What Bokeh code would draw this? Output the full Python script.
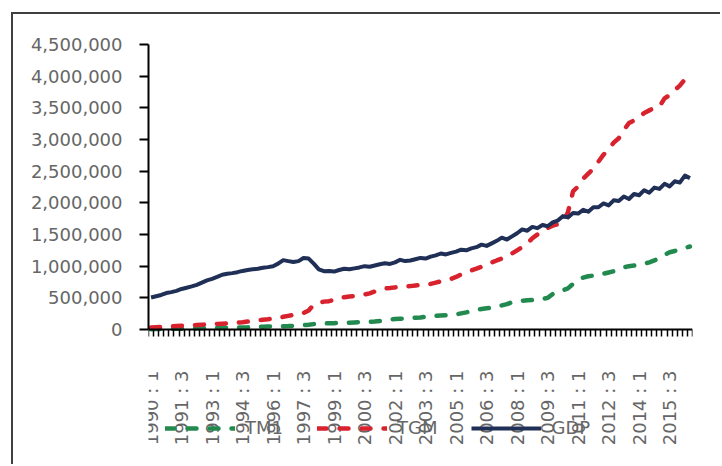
import math
from bokeh.plotting import figure
from bokeh.models import (FixedTicker, NumeralTickFormatter, Legend, LegendItem, Range1d)
from bokeh.embed import file_html
from bokeh.resources import INLINE

# ---------------- data ----------------
periods = [f"{y} : {q}" for y in range(1990, 2017) for q in (1, 2, 3, 4)][:107]

tm1_k = [5, 6, 8, 10, 10, 12, 13, 15, 16, 18, 19, 20, 22, 23, 25, 27,
         28, 30, 32, 34, 38, 42, 45, 48, 50, 52, 53, 55, 58, 62, 68, 75,
         85, 92, 95, 98, 100, 103, 105, 108, 112, 115, 118, 120, 125, 135, 145, 155,
         165, 170, 175, 180, 185, 190, 200, 210, 215, 220, 225, 230, 240, 255, 270, 290,
         310, 325, 335, 345, 360, 380, 400, 430, 450, 455, 460, 465, 470, 480, 500, 560,
         600, 620, 650, 720, 780, 820, 840, 850, 860, 880, 900, 920, 950, 980, 1000, 1010,
         1020, 1040, 1060, 1090, 1130, 1180, 1220, 1240, 1260, 1290, 1310]

tgm_k = [30, 35, 40, 45, 48, 55, 60, 62, 65, 70, 75, 80, 82, 88, 92, 95,
         100, 108, 115, 126, 135, 145, 155, 162, 174, 185, 200, 215, 230, 245, 260, 300,
         395, 420, 440, 447, 470, 500, 510, 520, 530, 545, 553, 570, 600, 630, 647, 655,
         665, 670, 679, 685, 695, 700, 710, 720, 740, 760, 774, 800, 830, 870, 900, 932,
         960, 990, 1020, 1058, 1090, 1120, 1160, 1200, 1250, 1300, 1358, 1440,
         1500, 1560, 1600, 1640, 1660, 1700, 1850, 2180, 2260, 2380, 2460, 2540,
         2650, 2760, 2850, 2950, 3020, 3150, 3260, 3300, 3350, 3420, 3460, 3500,
         3520, 3650, 3700, 3780, 3850, 3950, 4020]

gdp_k = [505, 525, 545, 575, 590, 610, 640, 660, 680, 705, 740, 775, 800, 830, 865, 880,
         890, 905, 925, 940, 950, 960, 975, 985, 1000, 1040, 1095, 1080, 1065, 1080, 1130, 1120,
         1040, 950, 920, 925, 915, 940, 960, 950, 965, 980, 1000, 990, 1010, 1030, 1045, 1035,
         1060, 1100, 1080, 1090, 1110, 1130, 1120, 1150, 1170, 1200, 1185, 1210,
         1230, 1260, 1250, 1280, 1300, 1340, 1320, 1360, 1400, 1450, 1420, 1470,
         1520, 1580, 1560, 1620, 1600, 1650, 1630, 1690, 1720, 1790, 1770, 1840,
         1830, 1890, 1860, 1930, 1930, 1990, 1960, 2040, 2030, 2100, 2060, 2140,
         2120, 2200, 2160, 2240, 2220, 2300, 2260, 2340, 2320, 2430, 2390]

tick_labels = ["1990 : 1", "1991 : 3", "1993 : 1", "1994 : 3", "1996 : 1", "1997 : 3",
               "1999 : 1", "2000 : 3", "2002 : 1", "2003 : 3", "2005 : 1", "2006 : 3",
               "2008 : 1", "2009 : 3", "2011 : 1", "2012 : 3", "2014 : 1", "2015 : 3"]
y_ticks = [0, 500000, 1000000, 1500000, 2000000, 2500000, 3000000, 3500000, 4000000, 4500000]

tm1 = [v * 1000 for v in tm1_k]
tgm = [v * 1000 for v in tgm_k]
gdp = [v * 1000 for v in gdp_k]
x = list(range(len(periods)))

# ---------------- figure ----------------
FONT = "DejaVu Sans"
TXT = "#666666"
Y_MAX = 4500000
# plot area runs from page y=44 (top) to page bottom 466; value 0 sits at y=329
y_min = -Y_MAX * (466 - 329) / (329 - 44)

p = figure(width=709, height=452, output_backend="svg", toolbar_location=None,
           x_range=Range1d(-0.5, len(periods) - 0.5), y_range=Range1d(y_min, Y_MAX),
           min_border_left=135, min_border_right=30, min_border_top=30,
           min_border_bottom=0, margin=(12, 0, 0, 11),
           styles={"border-left": "2px solid #404040", "border-top": "2px solid #404040"})
p.grid.visible = False
p.outline_line_color = None
p.background_fill_color = "white"
p.border_fill_color = "white"

# y axis
ya = p.yaxis[0]
ya.bounds = (0, Y_MAX)
ya.ticker = FixedTicker(ticks=y_ticks, minor_ticks=[])
ya.formatter = NumeralTickFormatter(format="0,0")
ya.axis_line_color = "#000000"
ya.axis_line_width = 2
ya.major_tick_line_color = "#000000"
ya.major_tick_line_width = 2
ya.major_tick_out = 9
ya.major_tick_in = 0
ya.minor_tick_line_color = None
ya.major_label_standoff = 17
ya.major_label_text_font = FONT
ya.major_label_text_font_size = "18px"
ya.major_label_text_color = TXT

# x axis (sits at value 0)
xa = p.xaxis[0]
xa.fixed_location = 0
label_pos = [periods.index(l) for l in tick_labels]
xa.ticker = FixedTicker(ticks=label_pos, minor_ticks=[i - 0.5 for i in range(len(periods) + 1)])
xa.major_label_overrides = {pos: lab for pos, lab in zip(label_pos, tick_labels)}
xa.axis_line_color = "#000000"
xa.axis_line_width = 2
xa.major_tick_line_color = None
xa.major_tick_out = 0
xa.major_tick_in = 0
xa.minor_tick_line_color = "#000000"
xa.minor_tick_line_width = 1.5
xa.minor_tick_out = 7
xa.minor_tick_in = 0
xa.major_label_orientation = math.pi / 2
xa.major_label_standoff = 34
xa.major_label_text_font = FONT
xa.major_label_text_font_size = "18px"
xa.major_label_text_color = TXT

# series
r_tm1 = p.line(x, tm1, line_color="#22894f", line_width=4.5, line_dash="9 13",
               line_cap="round")
r_tgm = p.line(x, tgm, line_color="#d8232e", line_width=4.5, line_dash="9 13",
               line_cap="round")
r_gdp = p.line(x, gdp, line_color="#1f2f55", line_width=4, line_join="round")

legend = Legend(items=[LegendItem(label="TM1", renderers=[r_tm1]),
                       LegendItem(label="TGM", renderers=[r_tgm]),
                       LegendItem(label="GDP", renderers=[r_gdp])],
                orientation="horizontal", location=(17, 28),
                glyph_width=70, glyph_height=20, label_height=20, label_standoff=10,
                spacing=34, padding=0, margin=0,
                border_line_color=None, background_fill_alpha=0,
                label_text_font=FONT, label_text_font_size="18px",
                label_text_color=TXT)
p.add_layout(legend, "center")

open("out.html", "w").write(file_html(p, INLINE))
